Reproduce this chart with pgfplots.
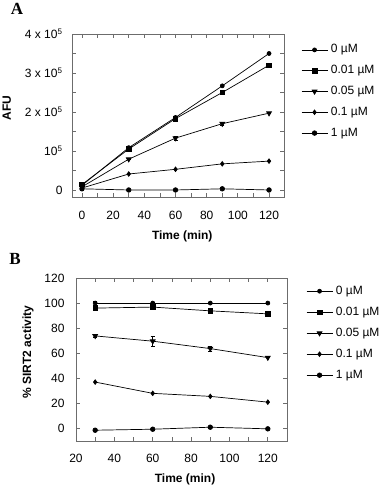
\documentclass[border=0pt]{standalone}
\usepackage{pgfplots}
\pgfplotsset{compat=1.18}
\usepackage{fontspec}
\setmainfont{Liberation Sans}
\newfontfamily\panelfont{Liberation Serif}

\pgfplotsset{
  sirtaxis/.style={
    scale only axis,
    axis line style={gray!85!black, line width=0.8pt},
    every tick/.style={gray!85!black, line width=0.8pt},
    major tick length=4pt, minor tick length=4pt,
    tick align=inside, tick pos=both,
    font=\fontsize{12}{14}\selectfont,
    tick label style={font=\fontsize{12}{14}\selectfont},
    /pgf/number format/assume math mode=true,
    label style={font=\fontsize{12}{14}\selectfont\bfseries},
    legend style={draw=none, fill=none, font=\fontsize{12}{14}\selectfont,
      nodes={inner sep=0pt, text height=9pt, text depth=3pt, anchor=west},
      /tikz/every odd column/.append style={column sep=3pt}},
    legend cell align=left,
    legend image code/.code={\draw[mark repeat=2, mark phase=2] plot coordinates {(0pt,0pt) (13pt,0pt) (26pt,0pt)};},
    every axis plot/.append style={black, line width=0.7pt, mark options={solid, fill=black}},
    error bars/error bar style={line width=0.5pt},
    error bars/error mark options={rotate=90, mark size=2pt, line width=0.5pt},
  },
}

\begin{document}
\begin{tikzpicture}
\useasboundingbox (0pt,0pt) rectangle (380pt,487pt);

% Panel A
\node[font=\fontsize{17}{19}\selectfont\panelfont\bfseries] at (17pt,478pt) {A};
\begin{axis}[sirtaxis,
  at={(72pt,290pt)}, anchor=south west,
  width=212pt, height=163pt,
  xmin=-6.4, xmax=129.6, ymin=-18000, ymax=400000,
  xtick={0,20,...,120}, minor x tick num=1,
  ytick={0,100000,200000,300000,400000}, minor y tick num=1,
  scaled y ticks=false,
  yticklabels={0,{10\textsuperscript{5}},{2 x 10\textsuperscript{5}},{3 x 10\textsuperscript{5}},{4 x 10\textsuperscript{5}}},
  xticklabel style={yshift=-11pt},
  yticklabel style={xshift=-6pt},
  xlabel={Time (min)}, ylabel={AFU},
  every axis x label/.append style={at={(axis description cs:0.52,-0.24)}, anchor=center},
  every axis y label/.append style={at={(axis description cs:-0.307,0.546)}, anchor=center},
  legend style={at={(axis description cs:1,1)}, anchor=north west, xshift=14pt, yshift=-7.7pt, row sep=8.8pt},
]
\addplot[mark=*, mark size=2pt] coordinates {(0,12000) (30,108500) (60,186000) (90,267000) (120,350000)};
\addlegendentry{0 µM}
\addplot[mark=square*, mark size=2.3pt] coordinates {(0,14000) (30,105000) (60,183000) (90,250000) (120,320000)};
\addlegendentry{0.01 µM}
\addplot[mark=triangle*, mark options={rotate=180}, mark size=2.8pt,
  error bars/.cd, y dir=both, y explicit] coordinates {(0,8000) +- (0,0) (30,79000) +- (0,0) (60,133000) +- (0,5000) (90,170000) +- (0,3000) (120,197000) +- (0,0)};
\addlegendentry{0.05 µM}
\addplot[mark=diamond*, mark size=2.3pt] coordinates {(0,5000) (30,41000) (60,53000) (90,67000) (120,74000)};
\addlegendentry{0.1 µM}
\addplot[mark=*, mark size=2.3pt] coordinates {(0,3000) (30,0) (60,0) (90,3000) (120,0)};
\addlegendentry{1 µM}
\end{axis}

% Panel B
\node[font=\fontsize{17}{19}\selectfont\panelfont\bfseries] at (15pt,228pt) {B};
\begin{axis}[sirtaxis,
  at={(76pt,46pt)}, anchor=south west,
  width=211pt, height=163pt,
  xmin=20, xmax=130, ymin=-10, ymax=120,
  xtick={20,40,...,120}, minor x tick num=1,
  ytick={0,20,...,120},
  xticklabel style={yshift=-10pt},
  yticklabel style={xshift=-8pt},
  xlabel={Time (min)}, ylabel={\% SIRT2 activity},
  every axis x label/.append style={at={(axis description cs:0.517,-0.233)}, anchor=center},
  every axis y label/.append style={at={(axis description cs:-0.227,0.546)}, anchor=center},
  legend style={at={(axis description cs:1,1)}, anchor=north west, xshift=16pt, yshift=-5pt, row sep=9pt},
]
\addplot[mark=*, mark size=2pt, error bars/.cd, y dir=both, y explicit] coordinates {(30,100) +- (0,1.5) (60,100) +- (0,1) (90,100) +- (0,0) (120,100) +- (0,0)};
\addlegendentry{0 µM}
\addplot[mark=square*, mark size=2.3pt, error bars/.cd, y dir=both, y explicit] coordinates {(30,96) +- (0,0) (60,96.8) +- (0,1.5) (90,93.8) +- (0,0) (120,91.4) +- (0,0)};
\addlegendentry{0.01 µM}
\addplot[mark=triangle*, mark options={rotate=180}, mark size=2.8pt,
  error bars/.cd, y dir=both, y explicit] coordinates {(30,73.8) +- (0,1) (60,69.6) +- (0,4) (90,63.7) +- (0,2) (120,56.5) +- (0,0)};
\addlegendentry{0.05 µM}
\addplot[mark=diamond*, mark size=2.3pt] coordinates {(30,37) (60,28) (90,25.6) (120,21)};
\addlegendentry{0.1 µM}
\addplot[mark=*, mark size=2.3pt] coordinates {(30,-1.4) (60,-0.6) (90,1) (120,-0.3)};
\addlegendentry{1 µM}
\end{axis}
\end{tikzpicture}
\end{document}
